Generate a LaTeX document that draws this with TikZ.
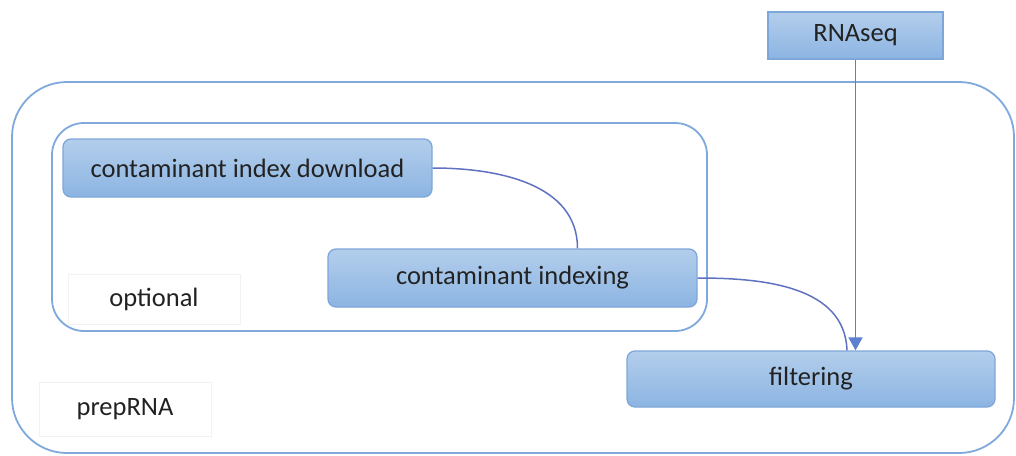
\documentclass[tikz,border=0pt]{standalone}
\usepackage{fontspec}
\setmainfont{Carlito}
\usetikzlibrary{arrows.meta}
\definecolor{frameblue}{HTML}{7FA9DD}
\definecolor{boxline}{HTML}{7EA7D9}
\definecolor{boxtop}{HTML}{B3CEEC}
\definecolor{boxbot}{HTML}{8CB4E2}
\definecolor{linkblue}{HTML}{5F72C2}
\definecolor{arrowblue}{HTML}{5B80D0}
\definecolor{txt}{HTML}{222222}

\begin{document}
\begin{tikzpicture}[x=1pt,y=-1pt,
    frame/.style={draw=frameblue, line width=1.8pt},
    box/.style={draw=boxline, line width=1.3pt, rounded corners=8pt,
      top color=boxtop, bottom color=boxbot, text=txt,
      font=\fontsize{26.5}{30}\selectfont},
    tag/.style={draw=black!5, fill=white, text=txt,
      font=\fontsize{26.5}{30}\selectfont},
    link/.style={draw=linkblue, line width=1.5pt}]
    \useasboundingbox (0,0) rectangle (1016,455);
    % containers
    \draw[frame, rounded corners=55pt] (12,82) rectangle (1014,453);
    \draw[frame, rounded corners=32pt] (52,123) rectangle (707,331);
    \node[tag, minimum width=172pt, minimum height=50pt] (optional) at (154,299) {optional};
    \node[tag, minimum width=172pt, minimum height=54pt] (prep) at (125,409) {prepRNA};
    % steps
    \node[box, minimum width=369pt, minimum height=58pt] (dl) at (247.5,168) {contaminant index download};
    \node[box, minimum width=369pt, minimum height=58pt] (idx) at (512.5,278) {contaminant indexing};
    \node[box, minimum width=368pt, minimum height=56pt] (filt) at (811,379) {filtering};
    \node[box, rounded corners=0pt, minimum width=175pt, minimum height=47pt] (rna) at (855.5,35.5) {RNAseq};
    % connectors
    \draw[link] (dl.east) to[out=0, in=90] ([xshift=65pt]idx.north);
    \draw[link] (idx.east) to[out=0, in=92] ([xshift=36pt]filt.north);
    \draw[draw=arrowblue, line width=1.8pt, -{Triangle[length=13pt, width=14pt]}]
      (rna.south) -- (rna.south |- filt.north);
\end{tikzpicture}
\end{document}
